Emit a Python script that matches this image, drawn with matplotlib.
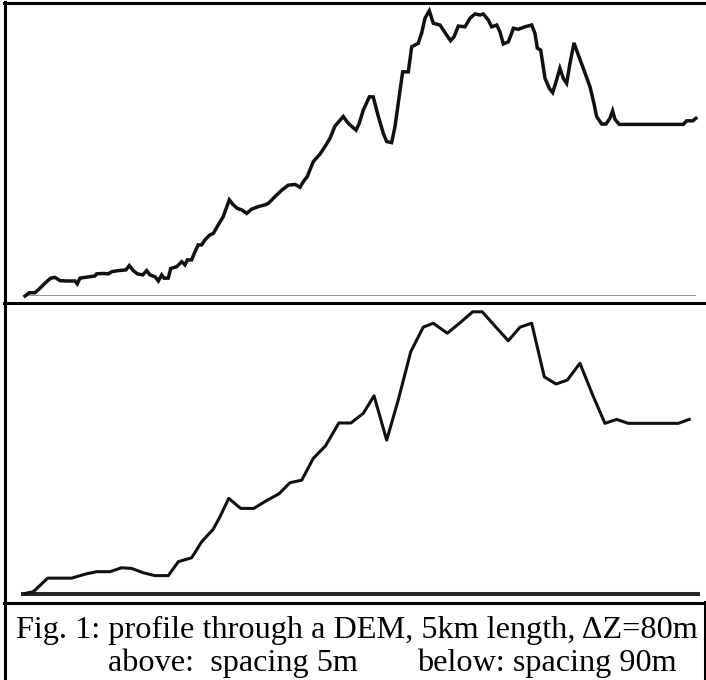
import matplotlib
matplotlib.use('Agg')
import matplotlib.pyplot as plt
from matplotlib.lines import Line2D

# profile sampled every 5 m (distance m, elevation m above the lowest point)
dist_5m = [0, 32, 74, 112, 149, 191, 223, 260, 310, 372, 389, 409, 446, 484, 521, 533,
           583, 620, 645, 694, 751, 776, 806, 836, 876, 905, 930, 967, 992, 1017, 1034,
           1066, 1084, 1129, 1166, 1190, 1208, 1240, 1265, 1289, 1315, 1339, 1376, 1401,
           1438, 1475, 1520, 1550, 1580, 1612, 1649, 1687, 1736, 1786, 1810, 1860, 1910,
           1959, 2009, 2046, 2071, 2100, 2145, 2195, 2232, 2269, 2306, 2368, 2405, 2463,
           2487, 2517, 2562, 2591, 2629, 2666, 2691, 2728, 2753, 2777, 2810, 2852, 2877,
           2926, 2951, 2976, 3008, 3038, 3088, 3137, 3167, 3192, 3224, 3274, 3311, 3348,
           3385, 3410, 3447, 3472, 3510, 3534, 3559, 3596, 3621, 3633, 3670, 3720, 3770,
           3794, 3812, 3837, 3869, 3901, 3926, 3951, 3980, 4005, 4030, 4055, 4085, 4117,
           4154, 4204, 4233, 4253, 4291, 4323, 4352, 4372, 4390, 4422, 4898, 4923, 4968,
           4992]
elev_5m = [0, 0.9, 0.9, 2.2, 3.6, 5.0, 5.2, 4.3, 4.2, 4.2, 3.4, 5.0, 5.2, 5.4, 5.6, 6.2,
           6.3, 6.2, 6.8, 7.1, 7.3, 8.5, 7.1, 6.2, 5.9, 7.1, 5.9, 5.4, 4.2, 5.9, 5.0,
           5.0, 7.7, 8.2, 9.6, 8.7, 10.1, 10.1, 12.4, 14.3, 14.3, 15.7, 17.1, 17.5,
           19.9, 22.2, 26.9, 25.5, 24.5, 24.1, 23.1, 24.3, 25.0, 25.5, 25.9, 27.8, 29.6,
           31.0, 31.2, 30.4, 32.0, 33.4, 37.6, 39.7, 41.8, 44.1, 47.5, 50.2, 48.3, 46.4,
           48.3, 52.0, 55.7, 55.7, 50.2, 45.5, 43.2, 42.9, 47.4, 53.9, 62.7, 62.7, 69.7,
           70.7, 73.5, 77.7, 79.8, 76.3, 75.8, 73.0, 71.4, 72.5, 75.5, 75.3, 77.7, 78.9,
           78.6, 78.9, 77.2, 75.3, 75.8, 73.9, 70.5, 71.1, 73.5, 74.9, 74.6, 75.3, 75.8,
           73.5, 69.3, 68.8, 60.9, 58.1, 56.9, 59.9, 63.7, 60.9, 59.5, 65.1, 70.8, 67.4,
           63.7, 58.5, 53.9, 50.2, 48.1, 48.1, 49.7, 51.8, 49.4, 48.0, 48.0, 49.0, 49.0,
           49.7]

# same profile sampled every 90 m
dist_90m = [0, 62, 169, 347, 446, 533, 632, 719, 794, 880, 967, 1066, 1141, 1240, 1315,
            1401, 1451, 1516, 1605, 1702, 1798, 1890, 1972, 2059, 2145, 2236, 2335, 2425,
            2517, 2597, 2691, 2777, 2870, 2963, 3038, 3142, 3236, 3331, 3402, 3497, 3596,
            3683, 3770, 3864, 3951, 4035, 4129, 4224, 4315, 4402, 4488, 4861, 4942]
elev_90m = [0, 0.5, 4.3, 4.3, 5.4, 6.1, 6.1, 7.2, 7.0, 5.8, 5.0, 5.0, 8.9, 10.0, 14.5,
            18.0, 21.5, 26.6, 23.8, 23.8, 26.0, 27.9, 31.0, 31.7, 37.8, 41.3, 47.7, 47.7,
            50.4, 55.3, 42.9, 54.1, 67.6, 74.5, 75.6, 72.8, 75.7, 78.8, 78.8, 74.8, 70.7,
            74.5, 75.6, 60.6, 58.6, 59.7, 64.4, 55.5, 47.6, 48.7, 47.6, 47.6, 48.7]

caption_1 = 'Fig. 1: profile through a DEM, 5km length, \u0394Z=80m'
caption_2a = 'above:  spacing 5m'
caption_2b = 'below: spacing 90m'

W, H = 706, 680


def main():
    fig = plt.figure(figsize=(W / 100, H / 100), dpi=100)
    fig.patch.set_facecolor('white')

    def rect(x0, y_bottom, x1, y_top):
        return [x0 / W, 1 - y_bottom / H, (x1 - x0) / W, (y_bottom - y_top) / H]

    ax1 = fig.add_axes(rect(25, 296, 697, 10))
    ax2 = fig.add_axes(rect(25, 593.5, 697, 307.5))

    for ax in (ax1, ax2):
        ax.set_xlim(0, 5000)
        ax.set_ylim(0, 80)
        ax.axis('off')

    ax1.axhline(0, xmin=0, xmax=0.997, color='#8a8a8a', lw=1.3)
    ax1.plot(dist_5m, elev_5m, color='#111111', lw=2.5, clip_on=False,
             solid_joinstyle='miter')

    ax2.axhline(0, xmin=-0.003, xmax=1.0015, color='#2b2622', lw=2.9, clip_on=False)
    ax2.plot(dist_90m, elev_90m, color='#111111', lw=2.2, clip_on=False)

    # frame lines
    def hline(y, x0, x1, lw=2.2):
        fig.add_artist(Line2D([x0 / W, x1 / W], [1 - y / H, 1 - y / H],
                              color='black', lw=lw))

    def vline(x, y0, y1, lw=2.2):
        fig.add_artist(Line2D([x / W, x / W], [1 - y0 / H, 1 - y1 / H],
                              color='black', lw=lw))

    hline(3, 4, 706)
    hline(303, 4, 706)
    hline(603, 4, 706)
    vline(5, 2, 680)
    vline(705, 602, 680)

    serif = 'Liberation Serif'
    fs = 23.2
    fig.text(357 / W, 1 - 638 / H, caption_1, family=serif, fontsize=fs,
             ha='center', va='baseline')
    fig.text(108 / W, 1 - 671 / H, caption_2a, family=serif, fontsize=fs,
             ha='left', va='baseline')
    fig.text(677 / W, 1 - 671 / H, caption_2b, family=serif, fontsize=fs,
             ha='right', va='baseline')

    fig.savefig('out.png', dpi=100)


if __name__ == '__main__':
    main()
